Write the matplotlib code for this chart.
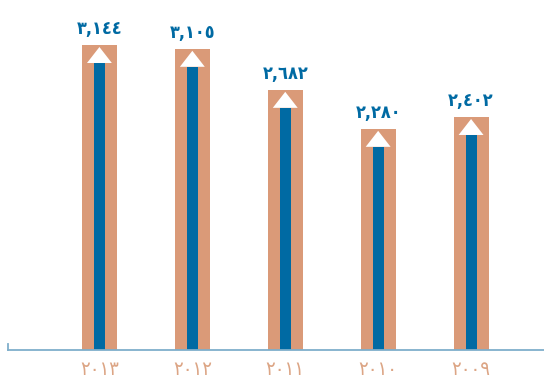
import matplotlib.pyplot as plt
from matplotlib.patches import Polygon

# yearly totals, newest first
years = ["٢٠١٣", "٢٠١٢", "٢٠١١", "٢٠١٠", "٢٠٠٩"]
values = [3144, 3105, 2682, 2280, 2402]
value_labels = ["٣,١٤٤", "٣,١٠٥", "٢,٦٨٢", "٢,٢٨٠", "٢,٤٠٢"]

tan = "#DA9A78"
blue = "#006AA3"
axis_blue = "#7FAFCB"

fig = plt.figure(figsize=(5.44, 3.78), dpi=100)
ax = fig.add_axes([8 / 544, 28 / 378, 536 / 544, 350 / 378])

x = list(range(len(values)))
ymax = 3608
px = ymax / 350.0  # data units per pixel

ax.bar(x, values, width=0.376, color=tan, zorder=1)
ax.bar(x, [v - 18 * px for v in values], width=0.118, color=blue, zorder=2)

# white arrow heads on top of each shaft
for xi, v in zip(x, values):
    tri = Polygon([(xi - 0.134, v - 18 * px), (xi + 0.134, v - 18 * px), (xi, v - 2 * px)],
                  closed=True, facecolor="white", edgecolor="none", zorder=3)
    ax.add_patch(tri)

for xi, v, lab in zip(x, values, value_labels):
    ax.annotate(lab, (xi, v), xytext=(0, 16), textcoords="offset pixels",
                ha="center", va="center", fontsize=13, fontweight="bold",
                fontstretch="condensed", color=blue, family="DejaVu Sans")

ax.set_xlim(-0.984, 4.785)
ax.set_ylim(0, ymax)

ax.set_xticks(x)
ax.set_xticklabels(years, fontsize=14.5, color="#DCA585", family="DejaVu Sans",
                   fontstretch="condensed")
ax.tick_params(axis="x", length=0, pad=7)
ax.set_yticks([])

for s in ["top", "right"]:
    ax.spines[s].set_visible(False)
ax.spines["bottom"].set_color(axis_blue)
ax.spines["bottom"].set_linewidth(1.3)
ax.spines["left"].set_color(axis_blue)
ax.spines["left"].set_linewidth(1.3)
ax.spines["left"].set_bounds(0, 6 * px)

fig.savefig("out.png", dpi=100)
